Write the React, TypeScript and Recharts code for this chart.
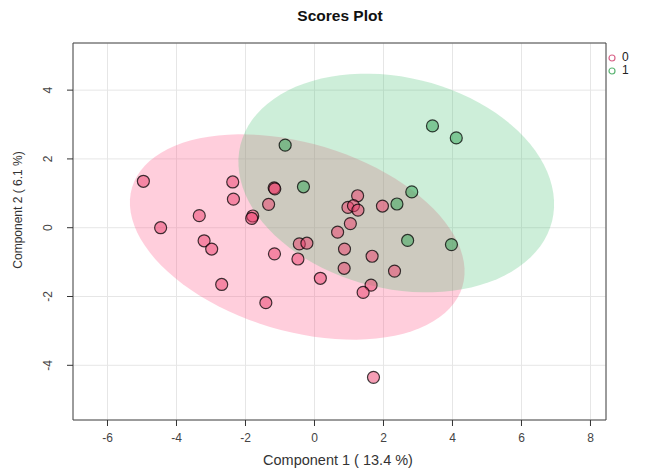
import React from 'react';
import { ScatterChart, Scatter, XAxis, YAxis, CartesianGrid, ReferenceArea } from 'recharts';

// group "0" (pink) scores
const group0X = [-4.96, -2.37, -1.17, -1.15, -2.35, -1.33, -3.34, -1.79, -1.82, -4.46, -3.2, -2.98, -0.44, -0.22, -1.16, -0.48, 0.17, -2.69, -1.41, 1.25, 0.97, 1.13, 1.26, 1.97, 1.04, 0.67, 0.87, 1.67, 0.86, 2.32, 1.64, 1.41, 1.71];
const group0Y = [1.35, 1.33, 1.16, 1.13, 0.83, 0.68, 0.35, 0.34, 0.27, 0.0, -0.38, -0.62, -0.47, -0.45, -0.76, -0.91, -1.47, -1.65, -2.18, 0.93, 0.59, 0.64, 0.51, 0.63, 0.12, -0.13, -0.62, -0.83, -1.18, -1.26, -1.67, -1.88, -4.35];
// group "1" (green) scores
const group1X = [-0.85, -0.32, 3.42, 4.11, 2.82, 2.39, 2.7, 3.97];
const group1Y = [2.4, 1.19, 2.96, 2.61, 1.04, 0.69, -0.37, -0.49];

const xTicks = [-6, -4, -2, 0, 2, 4, 6, 8];
const yTicks = [-4, -2, 0, 2, 4];
const xDomain: [number, number] = [-7, 8.45];
const yDomain: [number, number] = [-5.59, 5.37];

// confidence ellipses: centre x, centre y, semi-major, semi-minor, angle (deg)
const ellipse0 = [-0.5, -0.27, 5.0, 2.73, -16.8];
const ellipse1 = [2.37, 1.3, 4.65, 3.07, -13.7];

const FONT = '"Liberation Sans", Arial, sans-serif';
const PINK = '#EC3D6C';
const GREEN = '#3DA85C';

function outline(e: number[]) {
  const [cx, cy, a, b, deg] = e;
  const t = (deg * Math.PI) / 180;
  const pts = [];
  for (let i = 0; i <= 96; i++) {
    const s = (i / 96) * Math.PI * 2;
    pts.push({
      x: cx + a * Math.cos(s) * Math.cos(t) - b * Math.sin(s) * Math.sin(t),
      y: cy + a * Math.cos(s) * Math.sin(t) + b * Math.sin(s) * Math.cos(t),
    });
  }
  return pts;
}

const toPoints = (xs: number[], ys: number[]) => xs.map((x, i) => ({ x, y: ys[i] }));

const fillArea = (color: string, opacity: number) => (props: any) => {
  const d = props.points.map((p: any, i: number) => `${i ? 'L' : 'M'}${p.x},${p.y}`).join('') + 'Z';
  return <path d={d} fill={color} fillOpacity={opacity} stroke="none" />;
};

const dot = (color: string, opacity: number) => (props: any) => (
  <circle cx={props.cx} cy={props.cy} r={6} fill={color} fillOpacity={opacity} stroke="#000" strokeOpacity={0.75} strokeWidth={1.2} />
);

const YTick = (props: any) => {
  const { x, y, payload } = props;
  const bx = x - 13;
  return (
    <text x={bx} y={y} transform={`rotate(-90 ${bx} ${y})`} textAnchor="middle" fontSize={12} fill="#444" fontFamily={FONT}>
      {payload.value}
    </text>
  );
};

export default function App() {
  return (
    <div style={{ position: 'absolute', left: 0, top: 0, width: 652, height: 468, background: '#fff', fontFamily: FONT }}>
      <ScatterChart width={652} height={468} margin={{ top: 43, right: 46, bottom: 0, left: 0 }}>
        <CartesianGrid stroke="#e6e6e6" strokeWidth={1} />
        <XAxis
          type="number"
          dataKey="x"
          domain={xDomain}
          ticks={xTicks}
          allowDataOverflow
          height={48}
          axisLine={false}
          tickLine={{ stroke: '#333' }}
          tickSize={6}
          tickMargin={7}
          tick={{ fill: '#444', fontSize: 12, fontFamily: FONT }}
        />
        <YAxis
          type="number"
          dataKey="y"
          domain={yDomain}
          ticks={yTicks}
          allowDataOverflow
          width={73}
          axisLine={false}
          tickLine={{ stroke: '#333' }}
          tickSize={6}
          tick={<YTick />}
        />
        <Scatter data={outline(ellipse0)} line={fillArea('#FF5C8A', 0.3)} shape={() => <g />} isAnimationActive={false} />
        <Scatter data={outline(ellipse1)} line={fillArea('#4CC275', 0.28)} shape={() => <g />} isAnimationActive={false} />
        <Scatter data={toPoints(group0X, group0Y)} shape={dot(PINK, 0.5)} isAnimationActive={false} />
        <Scatter data={toPoints(group1X, group1Y)} shape={dot(GREEN, 0.55)} isAnimationActive={false} />
        <ReferenceArea x1={xDomain[0]} x2={xDomain[1]} y1={yDomain[0]} y2={yDomain[1]} fill="none" stroke="#444" strokeWidth={1} ifOverflow="visible" />
      </ScatterChart>

      <div style={{ position: 'absolute', left: 0, width: 680, top: 7, textAlign: 'center', fontWeight: 'bold', fontSize: 15.5, color: '#111' }}>
        Scores Plot
      </div>
      <div style={{ position: 'absolute', left: 240, width: 196, top: 452, textAlign: 'center', fontSize: 14.5, color: '#333' }}>
        Component 1 ( 13.4 %)
      </div>
      <div
        style={{
          position: 'absolute', left: 19 - 80, width: 160, top: 210 - 8, textAlign: 'center', fontSize: 12, color: '#333',
          transform: 'rotate(-90deg)', transformOrigin: '80px 8px',
        }}
      >
        Component 2 ( 6.1 %)
      </div>
      <div style={{ position: 'absolute', left: 607, top: 51, fontSize: 12, color: '#222', lineHeight: '13px' }}>
        {[['0', '#D9658A'], ['1', '#5DB574']].map(([label, c]) => (
          <div key={label} style={{ display: 'flex', alignItems: 'center' }}>
            <svg width={10} height={10} style={{ marginRight: 5 }}>
              <circle cx={5} cy={5} r={3} fill="none" stroke={c} strokeWidth={1.2} />
            </svg>
            {label}
          </div>
        ))}
      </div>
    </div>
  );
}
